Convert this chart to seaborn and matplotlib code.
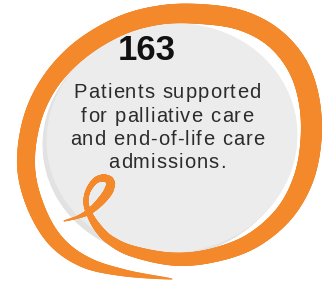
import numpy as np
import seaborn as sns
import matplotlib.pyplot as plt
from matplotlib.patches import Ellipse
from matplotlib.collections import LineCollection
from matplotlib.font_manager import FontProperties, findfont, get_font

# content
stat_value = "163"
caption_lines = ["Patients supported", "for palliative care",
                 "and end-of-life care", "admissions."]

# ribbon centreline (pixel space, y down) and its width in px
ribbon_x = [64, 78, 90, 101, 109, 110, 103, 95, 88, 86, 90, 98, 110, 132,
            172, 210, 250, 283, 303, 311, 309, 297, 273, 240, 200, 160, 120,
            80, 50, 32, 26, 35, 55, 85, 125, 172]
ribbon_y = [221, 217, 211, 201, 190, 181, 178, 181, 191, 203, 215, 228, 240,
            251, 259, 256, 242, 215, 180, 140, 100, 65, 37, 20, 14, 15, 26,
            50, 82, 120, 165, 205, 240, 262, 273, 279]
ribbon_w = [1, 3, 6, 8, 9, 8, 7, 6, 5, 5, 6, 8, 9, 11,
            13, 14, 16, 18, 20, 21, 21, 21, 20, 20, 20, 19, 19,
            19, 18, 18, 18, 17, 15, 12, 7, 1]

ORANGE = "#F3892A"
GREY = "#ECECEC"
W, H, DPI = 333, 284, 100
CAPTION_PT = 14.5
TRACKING = 1.1   # extra px between letters


def catmull_rom(pts, n=24):
    P = np.vstack([pts[0], pts, pts[-1]])
    out = []
    t = np.linspace(0, 1, n, endpoint=False)[:, None]
    for i in range(1, len(P) - 2):
        p0, p1, p2, p3 = P[i - 1], P[i], P[i + 1], P[i + 2]
        out.append(0.5 * (2 * p1 + (-p0 + p2) * t
                          + (2 * p0 - 5 * p1 + 4 * p2 - p3) * t ** 2
                          + (-p0 + 3 * p1 - 3 * p2 + p3) * t ** 3))
    out.append(P[-2][None])
    return np.vstack(out)


sns.set_theme(style="white")
plt.rcParams["font.family"] = ["Liberation Sans", "DejaVu Sans"]

fig = plt.figure(figsize=(W / DPI, H / DPI), dpi=DPI)
ax = fig.add_axes([0, 0, 1, 1])
ax.set_xlim(0, W)
ax.set_ylim(H, 0)
ax.axis("off")

# grey disc with a faint shadow
ax.add_patch(Ellipse((168, 142), 250, 228, angle=-8, color="#E2E2E2", zorder=1))
ax.add_patch(Ellipse((172, 138), 250, 228, angle=-8, color=GREY, zorder=2))

# orange swoosh as a variable-width stroke
pts = np.column_stack([ribbon_x, ribbon_y]).astype(float)
n = 24
curve = catmull_rom(pts, n)
u = np.arange(len(curve)) / n
widths = np.interp(u, np.arange(len(ribbon_w)), ribbon_w)
segs = np.stack([curve[:-1], curve[1:]], axis=1)
lw = 0.5 * (widths[:-1] + widths[1:]) * 72 / DPI
ax.add_collection(LineCollection(segs, linewidths=lw, colors=ORANGE,
                                 capstyle="round", zorder=3))

# big number
ax.text(147, 51, stat_value, ha="center", va="center", fontsize=25,
        fontweight="bold", color="#111111", zorder=4)

# caption with letter spacing, drawn glyph by glyph
prop = FontProperties(family="Liberation Sans", size=CAPTION_PT)
font = get_font(findfont(prop))
font.set_size(CAPTION_PT, DPI)
for i, line in enumerate(caption_lines):
    adv = [font.load_char(ord(c)).linearHoriAdvance / 65536 for c in line]
    total = sum(adv) + TRACKING * (len(line) - 1)
    x = 167 - total / 2
    for c, a in zip(line, adv):
        ax.text(x, 98.5 + i * 23.3, c, ha="left", va="baseline",
                fontproperties=prop, color="#2B2B2B", zorder=4)
        x += a + TRACKING

fig.savefig("out.png", dpi=DPI, facecolor="white")
